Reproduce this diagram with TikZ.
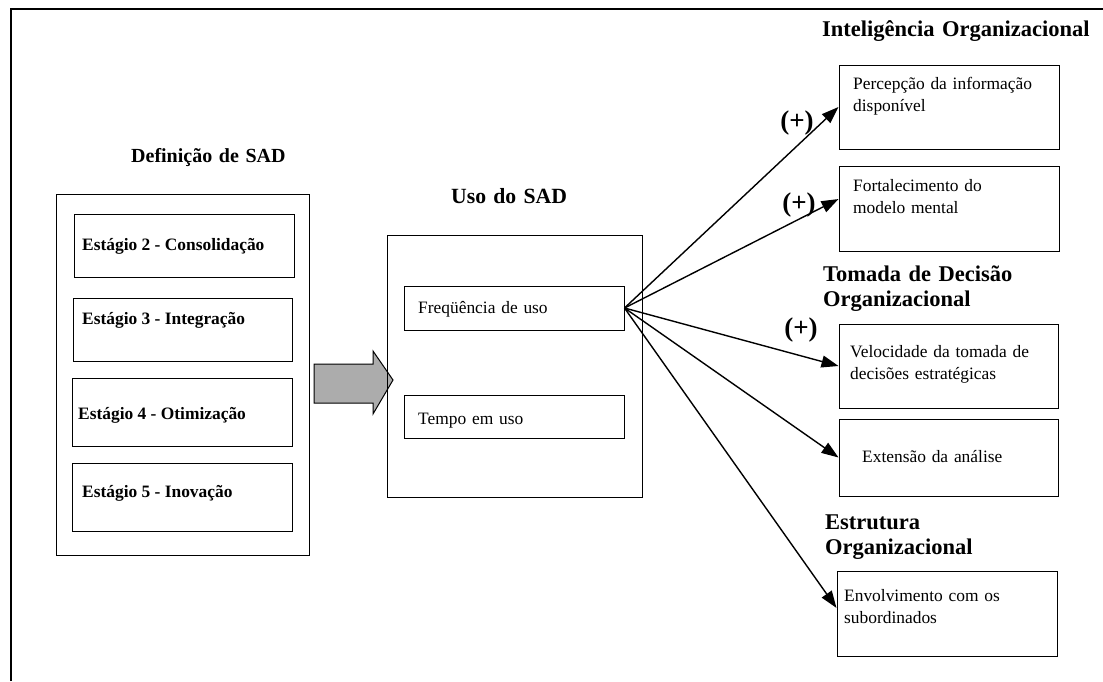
\documentclass[tikz,border=0pt]{standalone}
\usepackage{fontspec}
\setmainfont{Liberation Serif}
\usetikzlibrary{fit,calc,arrows.meta}
\definecolor{arrowgray}{RGB}{172,172,172}
\tikzset{
  box/.style={draw, line width=1pt, inner sep=0pt},
  body/.style={anchor=base west, inner sep=0pt, text width=215pt, align=left,
    font=\fontsize{17.4}{22}\selectfont},
  stagelbl/.style={anchor=base west, inner sep=0pt,
    font=\fontsize{17.4}{22}\selectfont\bfseries},
  heading/.style={anchor=base west, inner sep=0pt, text width=280pt, align=left,
    font=\fontsize{22.5}{25.5}\selectfont\bfseries},
  plus/.style={inner sep=0pt, font=\fontsize{27}{30}\selectfont\bfseries},
  conn/.style={line width=1.4pt, -{Triangle[length=17pt,width=12pt]}},
  frameline/.style={line width=1.4pt}
}
\begin{document}
\begin{tikzpicture}[x=1pt,y=-1pt]
\useasboundingbox (0,0) rectangle (1103,681);

% page frame
\draw[frameline] (11,681) -- (11,9) -- (1103,9);

% Definicao de SAD
\node[heading, font=\fontsize{20}{24}\selectfont\bfseries] (hdef) at (131,162) {Definição de SAD};
\node[box, fit={(56,194) (309,555)}] (def) {};
\node[box, fit={(74,214) (294,277)}] (s2) {};
\node[box, fit={(73,298) (292,361)}] (s3) {};
\node[box, fit={(72,378) (292,446)}] (s4) {};
\node[box, fit={(72,463) (292,531)}] (s5) {};
\node[stagelbl] (t2) at (82,250) {Estágio 2 - Consolidação};
\node[stagelbl] (t3) at (82,324) {Estágio 3 - Integração};
\node[stagelbl] (t4) at (78,419) {Estágio 4 - Otimização};
\node[stagelbl] (t5) at (82,497) {Estágio 5 - Inovação};

% block arrow
\draw[line width=1pt, fill=arrowgray]
  (314,364) -- (373,364) -- (373,351) -- (393,380) -- (373,414) -- (373,403) -- (314,403) -- cycle;

% Uso do SAD
\node[heading, font=\fontsize{21.7}{25}\selectfont\bfseries] (huso) at (451,203) {Uso do SAD};
\node[box, fit={(387,235) (642,497)}] (uso) {};
\node[box, fit={(404,286) (624,330)}] (freq) {};
\node[box, fit={(404,395) (624,438)}] (tempo) {};
\node[body] (tfreq) at (418,313) {Freqüência de uso};
\node[body] (ttempo) at (418,424) {Tempo em uso};

% Inteligencia Organizacional
\node[heading] (hint) at (822,36) {Inteligência Organizacional};
\node[box, fit={(839,65) (1059,149)}] (perc) {};
\node[box, fit={(839,166) (1059,251)}] (fort) {};
\node[body] (tperc) at (853,89) {Percepção da informação\\disponível};
\node[body] (tfort) at (853,191) {Fortalecimento do\\modelo mental};

% Tomada de Decisao Organizacional
\node[heading] (htom) at (823,281) {Tomada de Decisão\\Organizacional};
\node[box, fit={(839,324) (1058,408)}] (vel) {};
\node[box, fit={(839,419) (1058,496)}] (ext) {};
\node[body] (tvel) at (850,357) {Velocidade da tomada de\\decisões estratégicas};
\node[body] (text) at (862,462) {Extensão da análise};

% Estrutura Organizacional
\node[heading] (hest) at (825,529) {Estrutura\\Organizacional};
\node[box, fit={(837,571) (1057,656)}] (env) {};
\node[body] (tenv) at (844,601) {Envolvimento com os\\subordinados};

% effects of use frequency
\draw[conn] (freq.east) -- (perc.west);
\draw[conn] (freq.east) -- ($(fort.north west)!0.39!(fort.south west)$);
\draw[conn] (freq.east) -- (vel.west);
\draw[conn] (freq.east) -- (ext.west);
\draw[conn] (freq.east) -- ($(env.north west)!0.435!(env.south west)$);

\node[plus] (p1) at (797,123) {(+)};
\node[plus] (p2) at (799,205) {(+)};
\node[plus] (p3) at (801,330) {(+)};
\end{tikzpicture}
\end{document}
